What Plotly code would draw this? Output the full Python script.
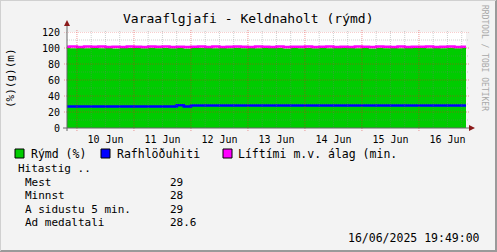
import plotly.graph_objects as go
import pandas as pd

# ---------------- data ----------------
title = "Varaaflgjafi - Keldnaholt (rýmd)"
y_title = "(%)(g)(m)"
t_start = "2025-06-09 19:49"
t_end = "2025-06-16 19:49"
times = pd.date_range("2025-06-09 18:00", "2025-06-16 21:00", freq="3h")  # 58 samples

rymd = [100.0, 99.6, 100.2, 99.8, 100.3, 99.7, 100.1, 99.5, 100.4, 99.9,
        100.0, 99.6, 100.3, 99.8, 100.1, 99.7, 100.2, 99.5, 100.0, 99.9,
        100.3, 99.6, 100.1, 99.8, 100.4, 99.7, 100.0, 99.6, 100.2, 99.9,
        100.1, 99.5, 100.3, 99.8, 100.0, 99.7, 100.2, 99.6, 100.4, 99.9,
        100.1, 99.7, 100.0, 99.5, 100.3, 99.8, 100.2, 99.6, 100.1, 99.9,
        100.0, 99.7, 100.3, 99.6, 100.2, 99.8, 100.1, 100.0]
rafhlo = [27, 27, 27, 27, 27, 27, 27, 27, 27, 27,
          27, 27, 27, 27, 27, 27, 28.5, 27, 28, 28,
          28, 28, 28, 28, 28, 28, 28, 28, 28, 28,
          28, 28, 28, 28, 28, 28, 28, 28, 28, 28,
          28, 28, 28, 28, 28, 28, 28, 28, 28, 28,
          28, 28, 28, 28, 28, 28, 28, 28]
liftimi = [101.6, 101.9, 101.3, 101.8, 101.5, 102.0, 101.4, 101.7, 101.2, 101.9,
           101.6, 101.3, 101.8, 101.5, 102.0, 101.4, 101.7, 101.2, 101.6, 101.9,
           101.4, 101.8, 101.3, 101.7, 102.0, 101.5, 101.2, 101.8, 101.6, 101.4,
           101.9, 101.3, 101.7, 101.5, 101.8, 101.2, 101.6, 102.0, 101.4, 101.7,
           101.3, 101.9, 101.5, 101.2, 101.8, 101.6, 101.4, 101.9, 101.3, 101.7,
           101.5, 102.0, 101.4, 101.6, 101.8, 101.3, 101.7, 101.5]

day_ticks = ["2025-06-10 12:00", "2025-06-11 12:00", "2025-06-12 12:00", "2025-06-13 12:00",
             "2025-06-14 12:00", "2025-06-15 12:00", "2025-06-16 12:00"]
day_labels = ["10 Jun", "11 Jun", "12 Jun", "13 Jun", "14 Jun", "15 Jun", "16 Jun"]
y_ticks = [0, 20, 40, 60, 80, 100, 120]
y_minor = [10, 20, 30, 40, 50, 60, 70, 80, 90, 100, 110, 120]

legend_names = ["Rýmd (%)", "Rafhlöðuhiti", "Líftími m.v. álag (min."]
legend_colors = ["#00CC00", "#0000FF", "#FF00FF"]
stats_header = "Hitastig .."
stats_labels = ["Mest", "Minnst", "A sidustu 5 min.", "Ad medaltali"]
stats_values = ["29", "28", "29", "28.6"]
timestamp = "16/06/2025 19:49:00"
watermark = "RRDTOOL / TOBI OETIKER"

# ---------------- layout geometry ----------------
W, H = 497, 252
L, R, T, B = 67, 466, 32, 128
MONO = "DejaVu Sans Mono"


def px(x):
    return (x - L) / (R - L)


def py(y):
    return (B - y) / (B - T)


fig = go.Figure()
fig.add_trace(go.Scatter(x=times, y=rymd, mode="lines", line=dict(width=0, shape="hv", color=legend_colors[0]),
                         fill="tozeroy", fillcolor=legend_colors[0], name=legend_names[0], showlegend=False))
fig.add_trace(go.Scatter(x=times, y=rafhlo, mode="lines", line=dict(width=2.5, shape="hv", color=legend_colors[1]),
                         name=legend_names[1], showlegend=False))
fig.add_trace(go.Scatter(x=times, y=liftimi, mode="lines", line=dict(width=2.5, shape="hv", color=legend_colors[2]),
                         name=legend_names[2], showlegend=False))

shapes = []
# vertical grid (6h minor, midnight major)
for t in pd.date_range("2025-06-10 00:00", "2025-06-16 18:00", freq="6h"):
    major = t.hour == 0
    shapes.append(dict(type="line", xref="x", yref="paper", x0=t, x1=t,
                       y0=py(131) if major else 0, y1=py(30),
                       line=dict(color="rgba(222,31,31,0.45)" if major else "rgba(120,120,120,0.35)",
                                 width=1, dash="1px,1px"), layer="above"))
# horizontal grid
for v in y_minor:
    major = v % 20 == 0
    shapes.append(dict(type="line", xref="paper", yref="y", x0=px(64) if major else 0, x1=px(469), y0=v, y1=v,
                       line=dict(color="rgba(222,31,31,0.45)" if major else "rgba(120,120,120,0.35)",
                                 width=1, dash="1px,1px"), layer="above"))
# axes lines
shapes.append(dict(type="line", xref="paper", yref="paper", x0=px(63), x1=px(471), y0=0, y1=0,
                   line=dict(color="#666666", width=1), layer="above"))
shapes.append(dict(type="line", xref="paper", yref="paper", x0=0, x1=0, y0=py(131), y1=py(24),
                   line=dict(color="#666666", width=1), layer="above"))
# arrows
shapes.append(dict(type="path", xref="paper", yref="paper",
                   path=f"M {px(64)} {py(26)} L {px(70)} {py(26)} L {px(67)} {py(20)} Z",
                   fillcolor="#8B1A1A", line=dict(width=0), layer="above"))
shapes.append(dict(type="path", xref="paper", yref="paper",
                   path=f"M {px(469)} {py(125)} L {px(469)} {py(131)} L {px(475)} {py(128)} Z",
                   fillcolor="#8B1A1A", line=dict(width=0), layer="above"))
# legend boxes
box_x = [15, 101, 223]
for bx, c in zip(box_x, legend_colors):
    shapes.append(dict(type="rect", xref="paper", yref="paper", x0=px(bx), x1=px(bx + 9), y0=py(158), y1=py(149),
                       fillcolor=c, line=dict(color="#000000", width=1)))
# frame
shapes.append(dict(type="line", xref="paper", yref="paper", x0=px(496), x1=px(496), y0=py(0), y1=py(252),
                   line=dict(color="#9a9a9a", width=2)))
shapes.append(dict(type="line", xref="paper", yref="paper", x0=px(0), x1=px(497), y0=py(251), y1=py(251),
                   line=dict(color="#9a9a9a", width=2)))
shapes.append(dict(type="line", xref="paper", yref="paper", x0=px(0.5), x1=px(0.5), y0=py(0), y1=py(251),
                   line=dict(color="#d0d0d0", width=1)))
shapes.append(dict(type="line", xref="paper", yref="paper", x0=px(0), x1=px(496), y0=py(0.5), y1=py(0.5),
                   line=dict(color="#d0d0d0", width=1)))

ann = []


def text(x, y, s, size=11, anchor="left", color="#000000", angle=0, yanchor="middle"):
    ann.append(dict(x=px(x), y=py(y), xref="paper", yref="paper", text=s, showarrow=False,
                    xanchor=anchor, yanchor=yanchor, textangle=angle,
                    font=dict(family=MONO, size=size, color=color)))


text(248, 18, title, size=13, anchor="center")
text(10, 78, y_title, size=11, anchor="center", angle=-90)
text(485, 58, watermark, size=8, anchor="center", color="#a8a8a8", angle=90)
leg_text_x = [29, 115, 236]
for tx, name in zip(leg_text_x, legend_names):
    text(tx, 154, name, size=11.5)
text(16, 168, stats_header, size=11)
row_y = [182, 195.5, 209, 222.5]
for ry, lab, val in zip(row_y, stats_labels, stats_values):
    text(23, ry, lab, size=11)
    text(168, ry, val, size=11)
text(482, 238, timestamp, size=11.5, anchor="right")

fig.update_layout(
    width=W, height=H,
    margin=dict(l=L, r=W - R, t=T, b=H - B),
    paper_bgcolor="#F3F3F3", plot_bgcolor="#FFFFFF",
    showlegend=False,
    shapes=shapes, annotations=ann,
    xaxis=dict(type="date", range=[t_start, t_end], tickvals=day_ticks, ticktext=day_labels,
               showgrid=False, zeroline=False, showline=False, ticks="outside", ticklen=2,
               tickcolor="rgba(0,0,0,0)",
               tickfont=dict(family=MONO, size=10, color="#000000"), fixedrange=True),
    yaxis=dict(range=[0, 120], tickvals=y_ticks, ticktext=[str(v) for v in y_ticks],
               showgrid=False, zeroline=False, showline=False, ticks="outside", ticklen=4,
               tickcolor="rgba(0,0,0,0)",
               tickfont=dict(family=MONO, size=10, color="#000000"), fixedrange=True),
)

fig.write_html("out.html")
